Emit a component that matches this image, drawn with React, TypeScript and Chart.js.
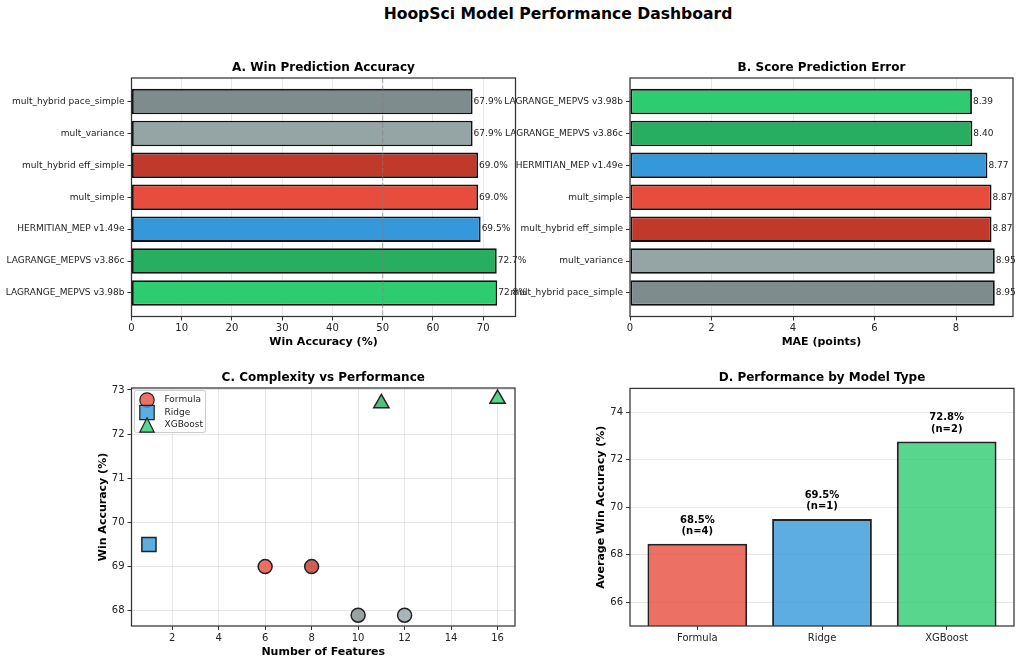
import React, { useEffect, useRef } from 'react';
import { Chart, registerables } from 'chart.js';

Chart.register(...registerables);

const FONT = '"DejaVu Sans", "Liberation Sans", sans-serif';
Chart.defaults.font.family = FONT;

// ---------- data ----------
const modelNames = [
  'LAGRANGE_MEPVS v3.98b',
  'LAGRANGE_MEPVS v3.86c',
  'HERMITIAN_MEP v1.49e',
  'mult_simple',
  'mult_hybrid eff_simple',
  'mult_variance',
  'mult_hybrid pace_simple',
];
const modelColors = ['#2ecc71', '#27ae60', '#3498db', '#e74c3c', '#c0392b', '#95a5a6', '#7f8c8d'];
const modelTypes = ['XGBoost', 'XGBoost', 'Ridge', 'Formula', 'Formula', 'Formula', 'Formula'];
const winAccuracy = [72.8, 72.7, 69.5, 69.0, 69.0, 67.9, 67.9];
const maePoints = [8.39, 8.4, 8.77, 8.87, 8.87, 8.95, 8.95];
const featureCounts = [16, 11, 1, 6, 8, 12, 10];

const typeNames = ['Formula', 'Ridge', 'XGBoost'];
const typeColors = ['#e74c3c', '#3498db', '#2ecc71'];
const typeMarkers = ['circle', 'rect', 'triangle'];
const typeAvgAccuracy = [68.46, 69.5, 72.77];
const typeCounts = [4, 1, 2];

const winTicks = [0, 10, 20, 30, 40, 50, 60, 70];
const maeTicks = [0, 2, 4, 6, 8];
const featureTicks = [2, 4, 6, 8, 10, 12, 14, 16];
const scatterAccTicks = [68, 69, 70, 71, 72, 73];
const avgAccTicks = [66, 68, 70, 72, 74];
const chanceLine = 50;

// ---------- styling helpers ----------
const GRID = 'rgba(176,176,176,0.3)';
const TICK = '#333';
const TXT = '#222';

function hexA(hex: string, a: number) {
  const n = parseInt(hex.slice(1), 16);
  return `rgba(${(n >> 16) & 255},${(n >> 8) & 255},${n & 255},${a})`;
}

function fixedTicks(values: number[]) {
  return (s: any) => {
    s.ticks = values.map((v) => ({ value: v }));
  };
}

const framePlugin = {
  id: 'frame',
  afterDraw(chart: any) {
    const { ctx, chartArea: a } = chart;
    ctx.save();
    ctx.strokeStyle = '#333';
    ctx.lineWidth = 1.25;
    ctx.strokeRect(a.left, a.top, a.right - a.left, a.bottom - a.top);
    ctx.restore();
  },
};

function titleOpts(text: string, top: number, bottom: number) {
  return {
    display: true,
    text,
    fullSize: false,
    color: '#000',
    font: { size: 12, weight: 'bold' as const, family: FONT },
    padding: { top, bottom },
  };
}

function axisTitle(text: string) {
  return {
    display: true,
    text,
    color: '#000',
    font: { size: 11, weight: 'bold' as const, family: FONT },
    padding: { top: 4, bottom: 2 },
  };
}

// ---------- panel configs ----------
function hBarConfig(opts: {
  values: number[];
  maxX: number;
  ticks: number[];
  fmt: (v: number) => string;
  xTitle: string;
  title: string;
  reverse: boolean;
  yWidth: number;
  rightPad: number;
  refLine?: number;
}) {
  const labelPlugin = {
    id: 'barEndLabels',
    afterDatasetsDraw(chart: any) {
      const { ctx } = chart;
      if (opts.refLine !== undefined) {
        const xs = chart.scales.x;
        const px = xs.getPixelForValue(opts.refLine);
        ctx.save();
        ctx.strokeStyle = 'rgba(128,128,128,0.55)';
        ctx.lineWidth = 1.2;
        ctx.setLineDash([5, 2.5]);
        ctx.beginPath();
        ctx.moveTo(px, chart.chartArea.top);
        ctx.lineTo(px, chart.chartArea.bottom);
        ctx.stroke();
        ctx.restore();
      }
      const meta = chart.getDatasetMeta(0);
      ctx.save();
      ctx.font = `9px ${FONT}`;
      ctx.fillStyle = TXT;
      ctx.textAlign = 'left';
      ctx.textBaseline = 'middle';
      meta.data.forEach((el: any, i: number) => {
        ctx.fillText(opts.fmt(opts.values[i]), el.x + 1, el.y);
      });
      ctx.restore();
    },
  };
  return {
    type: 'bar' as const,
    data: {
      datasets: [
        {
          data: opts.values.map((v, i) => ({ x: v, y: i })),
          backgroundColor: modelColors,
          borderColor: '#111',
          borderWidth: 1.8,
          borderSkipped: false,
          barPercentage: 0.8,
          categoryPercentage: 1,
        },
      ],
    },
    options: {
      indexAxis: 'y' as const,
      animation: false as const,
      responsive: true,
      maintainAspectRatio: false,
      events: [],
      layout: { autoPadding: false, padding: { left: 0, right: opts.rightPad, top: 0, bottom: 14.1 } },
      plugins: {
        legend: { display: false },
        tooltip: { enabled: false },
        title: titleOpts(opts.title, 5.9, 2.7),
      },
      scales: {
        x: {
          type: 'linear' as const,
          min: 0,
          max: opts.maxX,
          offset: false,
          afterBuildTicks: fixedTicks(opts.ticks),
          afterFit: (s: any) => {
            s.height = 34.4;
          },
          ticks: { color: TXT, font: { size: 10 }, padding: 2, maxRotation: 0 },
          grid: { color: GRID, tickColor: TICK, tickLength: 4, lineWidth: 1 },
          border: { display: false },
          title: axisTitle(opts.xTitle),
        },
        y: {
          type: 'linear' as const,
          min: -0.74,
          max: 6.74,
          reverse: opts.reverse,
          offset: false,
          afterBuildTicks: fixedTicks(modelNames.map((_, i) => i)),
          afterFit: (s: any) => {
            s.width = opts.yWidth;
          },
          ticks: {
            color: TXT,
            font: { size: 9 },
            padding: 3,
            callback: (v: any) => modelNames[v as number],
          },
          grid: { drawOnChartArea: false, offset: false, tickColor: TICK, tickLength: 4 },
          border: { display: false },
        },
      },
    },
    plugins: [labelPlugin, framePlugin],
  };
}

function configA() {
  return hBarConfig({
    values: winAccuracy,
    maxX: 76.44,
    ticks: winTicks,
    fmt: (v) => `${v.toFixed(1)}%`,
    xTitle: 'Win Accuracy (%)',
    title: 'A. Win Prediction Accuracy',
    reverse: false,
    yWidth: 131.5,
    rightPad: 580 - 515.5,
    refLine: chanceLine,
  });
}

function configB() {
  return hBarConfig({
    values: maePoints,
    maxX: 9.3975,
    ticks: maeTicks,
    fmt: (v) => v.toFixed(2),
    xTitle: 'MAE (points)',
    title: 'B. Score Prediction Error',
    reverse: true,
    yWidth: 130,
    rightPad: 524 - 513,
  });
}

function drawMarker(ctx: CanvasRenderingContext2D, style: string, x: number, y: number, r: number) {
  ctx.beginPath();
  if (style === 'circle') {
    ctx.arc(x, y, r, 0, Math.PI * 2);
  } else if (style === 'rect') {
    ctx.rect(x - r, y - r, 2 * r, 2 * r);
  } else {
    ctx.moveTo(x, y - r);
    ctx.lineTo(x + r, y + r);
    ctx.lineTo(x - r, y + r);
    ctx.closePath();
  }
  ctx.fill();
  ctx.stroke();
}

function configC() {
  const legendPlugin = {
    id: 'boxLegend',
    afterDraw(chart: any) {
      const { ctx, chartArea: a } = chart;
      const x0 = a.left + 3;
      const y0 = a.top + 2.5;
      const w = 71;
      const h = 42;
      ctx.save();
      ctx.fillStyle = 'rgba(255,255,255,0.8)';
      ctx.strokeStyle = '#cccccc';
      ctx.lineWidth = 1;
      ctx.beginPath();
      if ((ctx as any).roundRect) (ctx as any).roundRect(x0, y0, w, h, 2);
      else ctx.rect(x0, y0, w, h);
      ctx.fill();
      ctx.stroke();
      typeNames.forEach((name, i) => {
        const cy = y0 + 9.5 + i * 12.5;
        ctx.fillStyle = hexA(typeColors[i], 0.8);
        ctx.strokeStyle = '#222';
        ctx.lineWidth = 1.2;
        drawMarker(ctx, typeMarkers[i], x0 + 12.5, cy, 7.2);
        ctx.fillStyle = TXT;
        ctx.font = `9px ${FONT}`;
        ctx.textAlign = 'left';
        ctx.textBaseline = 'middle';
        ctx.fillText(name, x0 + 30, cy);
      });
      ctx.restore();
    },
  };
  const datasets = typeNames.map((t, ti) => {
    const idx = modelTypes.map((mt, i) => (mt === t ? i : -1)).filter((i) => i >= 0);
    const style = typeMarkers[ti];
    return {
      label: t,
      data: idx.map((i) => ({ x: featureCounts[i], y: winAccuracy[i] })),
      pointBackgroundColor: idx.map((i) => hexA(modelColors[i], 0.8)),
      pointBorderColor: '#222',
      pointBorderWidth: 1.5,
      pointStyle: style,
      pointRadius: style === 'circle' ? 7 : style === 'rect' ? 10 : 8.8,
    };
  });
  return {
    type: 'scatter' as const,
    data: { datasets },
    options: {
      animation: false as const,
      responsive: true,
      maintainAspectRatio: false,
      events: [],
      layout: { autoPadding: false, padding: { left: 92.4, right: 5, top: 0, bottom: 4.7 } },
      plugins: {
        legend: { display: false },
        tooltip: { enabled: false },
        title: titleOpts('C. Complexity vs Performance', 6.1, 2.5),
      },
      scales: {
        x: {
          type: 'linear' as const,
          min: 0.25,
          max: 16.75,
          afterBuildTicks: fixedTicks(featureTicks),
          afterFit: (s: any) => {
            s.height = 34.3;
          },
          ticks: { color: TXT, font: { size: 10 }, padding: 2, maxRotation: 0 },
          grid: { color: GRID, tickColor: TICK, tickLength: 4 },
          border: { display: false },
          title: axisTitle('Number of Features'),
        },
        y: {
          type: 'linear' as const,
          min: 67.655,
          max: 73.045,
          afterBuildTicks: fixedTicks(scatterAccTicks),
          afterFit: (s: any) => {
            s.width = 131.5 - 92.4;
          },
          ticks: { color: TXT, font: { size: 10 }, padding: 3 },
          grid: { color: GRID, tickColor: TICK, tickLength: 4 },
          border: { display: false },
          title: axisTitle('Win Accuracy (%)'),
        },
      },
    },
    plugins: [framePlugin, legendPlugin],
  };
}

function configD() {
  const labelPlugin = {
    id: 'typeLabels',
    afterDatasetsDraw(chart: any) {
      const { ctx } = chart;
      const ys = chart.scales.y;
      const meta = chart.getDatasetMeta(0);
      ctx.save();
      ctx.font = `bold 10px ${FONT}`;
      ctx.fillStyle = '#000';
      ctx.textAlign = 'center';
      ctx.textBaseline = 'alphabetic';
      meta.data.forEach((el: any, i: number) => {
        const yb = ys.getPixelForValue(typeAvgAccuracy[i] + 0.3);
        ctx.fillText(`(n=${typeCounts[i]})`, el.x, yb - 2.5);
        ctx.fillText(`${typeAvgAccuracy[i].toFixed(1)}%`, el.x, yb - 14);
      });
      ctx.restore();
    },
  };
  return {
    type: 'bar' as const,
    data: {
      datasets: [
        {
          data: typeAvgAccuracy.map((v, i) => ({ x: i, y: v })),
          backgroundColor: typeColors.map((c) => hexA(c, 0.8)),
          borderColor: '#222',
          borderWidth: 2,
          borderSkipped: false,
          barPercentage: 0.8,
          categoryPercentage: 1,
        },
      ],
    },
    options: {
      animation: false as const,
      responsive: true,
      maintainAspectRatio: false,
      events: [],
      layout: { autoPadding: false, padding: { left: 70.1, right: 10, top: 0, bottom: 14 } },
      plugins: {
        legend: { display: false },
        tooltip: { enabled: false },
        title: titleOpts('D. Performance by Model Type', 5.9, 3.1),
      },
      scales: {
        x: {
          type: 'linear' as const,
          min: -0.54,
          max: 2.54,
          offset: false,
          afterBuildTicks: fixedTicks(typeNames.map((_, i) => i)),
          afterFit: (s: any) => {
            s.height = 25;
          },
          ticks: {
            color: TXT,
            font: { size: 10 },
            padding: 2,
            maxRotation: 0,
            callback: (v: any) => typeNames[v as number],
          },
          grid: { drawOnChartArea: false, offset: false, tickColor: TICK, tickLength: 4 },
          border: { display: false },
        },
        y: {
          type: 'linear' as const,
          min: 65,
          max: 75,
          afterBuildTicks: fixedTicks(avgAccTicks),
          afterFit: (s: any) => {
            s.width = 110 - 70.1;
          },
          ticks: { color: TXT, font: { size: 10 }, padding: 3 },
          grid: { color: GRID, tickColor: TICK, tickLength: 4 },
          border: { display: false },
          title: axisTitle('Average Win Accuracy (%)'),
        },
      },
    },
    plugins: [labelPlugin, framePlugin],
  };
}

// ---------- components ----------
type Box = { left: number; top: number; width: number; height: number };

function Panel({ box, make }: { box: Box; make: () => any }) {
  const ref = useRef<HTMLCanvasElement>(null);
  useEffect(() => {
    const chart = new Chart(ref.current as HTMLCanvasElement, make());
    return () => chart.destroy();
  }, []);
  return (
    <div style={{ position: 'absolute', left: box.left, top: box.top, width: box.width, height: box.height }}>
      <canvas ref={ref} />
    </div>
  );
}

export default function App() {
  return (
    <div
      style={{
        position: 'absolute',
        left: 0,
        top: 0,
        width: 1024,
        height: 665,
        background: '#fff',
        overflow: 'hidden',
        fontFamily: FONT,
      }}
    >
      <div
        style={{
          position: 'absolute',
          left: 258,
          width: 600,
          top: 4,
          textAlign: 'center',
          fontSize: 15.6,
          fontWeight: 'bold',
          color: '#000',
          lineHeight: '20px',
        }}
      >
        HoopSci Model Performance Dashboard
      </div>
      <Panel box={{ left: 0, top: 55, width: 580, height: 310 }} make={configA} />
      <Panel box={{ left: 500, top: 55, width: 524, height: 310 }} make={configB} />
      <Panel box={{ left: 0, top: 365, width: 520, height: 300 }} make={configC} />
      <Panel box={{ left: 520, top: 365, width: 504, height: 300 }} make={configD} />
    </div>
  );
}
